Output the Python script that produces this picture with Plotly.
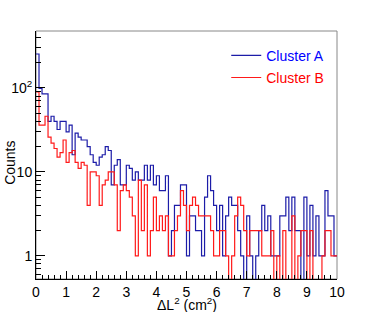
import numpy as np
import plotly.graph_objects as go

# bin edges: 100 bins of width 0.1 from 0 to 10
bin_edges = [round(i * 0.1, 1) for i in range(101)]

cluster_a = [254, 99, 85, 85, 40, 46, 40, 32, 40, 40,
             30, 36, 16, 29, 26, 24, 24, 20, 16, 13,
             12, 15, 16, 20, 18, 7, 12, 14, 7, 7,
             12, 11, 8, 10, 8, 8, 12, 8, 12, 7,
             9, 6, 6, 9, 1, 2, 4, 4, 7, 7,
             1, 3, 3, 2, 2, 1, 5, 9, 6, 4,
             2, 4, 1, 3, 5, 4, 4, 2, 1, 0,
             3, 1, 0, 1, 2, 4, 2, 3, 1, 1,
             1, 3, 3, 5, 2, 5, 2, 2, 0, 5,
             1, 4, 1, 3, 1, 1, 6, 3, 3, 1]

cluster_b = [90, 36, 36, 46, 26, 22, 19, 15, 17, 24,
             13, 17, 18, 13, 11, 13, 12, 4, 10, 10,
             9, 4, 7, 8, 10, 10, 7, 2, 6, 7,
             6, 5, 3, 1, 8, 2, 7, 1, 2, 5,
             2, 3, 2, 3, 1, 1, 2, 3, 6, 4,
             2, 4, 5, 4, 3, 3, 3, 3, 2, 1,
             1, 2, 2, 1, 0, 1, 3, 5, 4, 2,
             1, 2, 2, 2, 2, 1, 1, 1, 2, 0,
             1, 0, 2, 0, 0, 3, 0, 1, 2, 2,
             0, 2, 0, 0, 0, 1, 2, 2, 1, 1]

series_names = ["Cluster A", "Cluster B"]
line_colors = ["#1c1ca8", "#ff1a1a"]
text_colors = ["#0000ff", "#ff0000"]

y_tick_vals = [1, 10, 100]
y_tick_text = ["1", "10", "10<sup>2</sup>"]
x_tick_vals = list(range(0, 11))

FLOOR = 1e-3  # empty bins drawn down past the frame bottom (clipped)

fig = go.Figure()
for name, vals, lc, tc in zip(series_names, [cluster_a, cluster_b], line_colors, text_colors):
    v = np.array(vals, dtype=float)
    v = np.where(v > 0, v, FLOOR)
    y = np.append(v, v[-1])
    fig.add_trace(go.Scatter(
        x=bin_edges, y=y, mode="lines", line_shape="hv",
        line=dict(color=lc, width=1.2),
        name=f'<span style="color:{tc}">{name}</span>',
        legendgroup=name, hoverinfo="skip"))

font = "Liberation Sans, Arial, sans-serif"
fig.update_layout(
    width=374, height=312,
    margin=dict(l=36, r=37, t=31, b=33),
    paper_bgcolor="white", plot_bgcolor="white",
    font=dict(family=font, size=14, color="black"),
    showlegend=True,
    legend=dict(x=0.632, y=0.965, xanchor="left", yanchor="top",
                bgcolor="rgba(0,0,0,0)", borderwidth=0,
                font=dict(size=14), itemwidth=30, tracegroupgap=1),
    xaxis=dict(range=[0, 10], tickvals=x_tick_vals, ticks="inside", ticklen=8,
               tickcolor="black", showline=True, linecolor="black", linewidth=1,
               showgrid=False, zeroline=False, tickfont=dict(size=14),
               minor=dict(dtick=0.2, ticks="inside", ticklen=4, tickcolor="black", showgrid=False),
               automargin=False),
    yaxis=dict(type="log", range=[np.log10(0.53), np.log10(477)],
               tickvals=y_tick_vals, ticktext=y_tick_text, ticks="inside", ticklen=9,
               tickcolor="black", showline=True, linecolor="black", linewidth=1,
               showgrid=False, zeroline=False, tickfont=dict(size=14),
               minor=dict(ticks="inside", ticklen=5, tickcolor="black", showgrid=False,
                          tickvals=[0.6, 0.7, 0.8, 0.9, 2, 3, 4, 5, 6, 7, 8, 9,
                                    20, 30, 40, 50, 60, 70, 80, 90, 200, 300, 400]),
               automargin=False),
    shapes=[dict(type="rect", xref="paper", yref="paper", x0=0, x1=1, y0=0, y1=1,
                 line=dict(color="#888888", width=1), layer="below")],
    annotations=[
        dict(text="Counts", xref="paper", yref="paper", x=-0.085, y=0.47,
             textangle=-90, showarrow=False, font=dict(size=14),
             xanchor="center", yanchor="middle"),
        dict(text="ΔL<sup>2</sup> (cm<sup>2</sup>)", xref="paper", yref="paper",
             x=0.5, y=-0.102, showarrow=False, font=dict(size=14),
             xanchor="center", yanchor="middle"),
    ],
)

fig.write_html("out.html", config={"displayModeBar": False},
               post_script="document.body.style.margin='0';")
